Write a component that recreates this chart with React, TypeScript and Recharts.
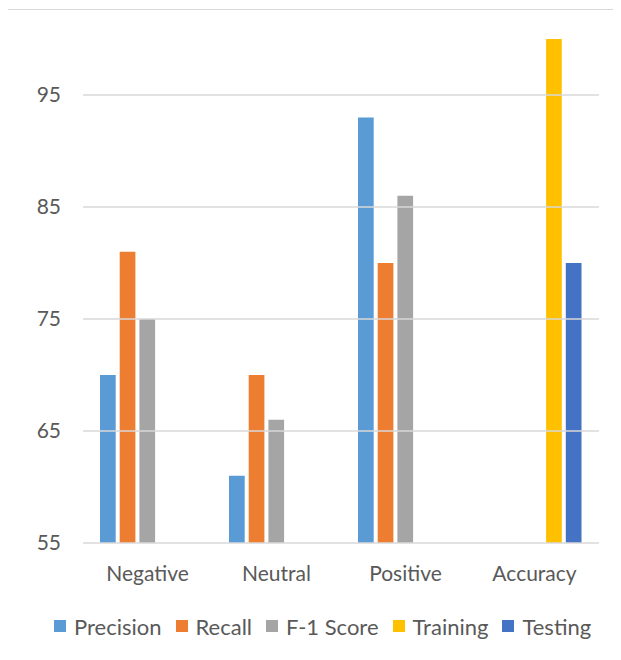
import { BarChart, Bar, XAxis, YAxis, ReferenceLine, Legend } from "recharts";

const categories = ["Negative", "Neutral", "Positive", "Accuracy"];
const precision = [70, 61, 93, null];
const recall = [81, 70, 80, null];
const f1Score = [75, 66, 86, null];
const training = [null, null, null, 100];
const testing = [null, null, null, 80];
const yTicks = [55, 65, 75, 85, 95];

const series = [
  { key: "precision", name: "Precision", color: "#5B9BD5" },
  { key: "recall", name: "Recall", color: "#ED7D31" },
  { key: "f1", name: "F-1 Score", color: "#A5A5A5" },
  { key: "training", name: "Training", color: "#FFC000" },
  { key: "testing", name: "Testing", color: "#4472C4" },
];

const data = categories.map((name, i) => ({
  name,
  precision: precision[i],
  recall: recall[i],
  f1: f1Score[i],
  training: training[i],
  testing: testing[i],
}));

const textColor = "#595959";
const fontFamily = "Lato, 'Liberation Sans', sans-serif";

function LegendContent() {
  return (
    <div
      style={{
        display: "flex",
        justifyContent: "flex-start",
        alignItems: "center",
        height: 40,
        paddingLeft: 46,
        whiteSpace: "nowrap",
        fontFamily,
        fontSize: 22,
        color: textColor,
      }}
    >
      {series.map((s) => (
        <div key={s.key} style={{ display: "flex", alignItems: "center", marginRight: 14, flexShrink: 0 }}>
          <span style={{ width: 12, height: 12, background: s.color, marginRight: 8, display: "inline-block" }} />
          <span>{s.name}</span>
        </div>
      ))}
    </div>
  );
}

export default function App() {
  return (
    <div style={{ position: "relative", width: 613, height: 652, fontFamily }}>
      <div
        style={{
          position: "absolute",
          left: -1,
          top: 1,
          right: 0,
          bottom: 0,
          borderLeft: "1.5px solid #d9d9d9",
          borderTop: "1.5px solid #d9d9d9",
          pointerEvents: "none",
        }}
      />
      <BarChart
        width={613}
        height={652}
        data={data}
        margin={{ top: 31, right: 22, left: 0, bottom: 14 }}
        barSize={15.7}
        barGap={4}
        barCategoryGap={17}
      >
        <XAxis
          dataKey="name"
          height={63}
          tickLine={false}
          axisLine={{ stroke: "#d9d9d9", strokeWidth: 1.5 }}
          tickSize={0}
          tickMargin={23}
          tick={{ fill: textColor, fontSize: 21, fontFamily }}
        />
        <YAxis
          width={75}
          domain={[55, 100]}
          ticks={yTicks}
          allowDataOverflow
          tickLine={false}
          axisLine={false}
          tickSize={0}
          tickMargin={22}
          tick={{ fill: textColor, fontSize: 21, fontFamily }}
        />
        {yTicks.slice(1).map((t) => (
          <ReferenceLine key={t} y={t} stroke="#d9d9d9" strokeWidth={1.5} />
        ))}
        <Legend verticalAlign="bottom" height={40} content={<LegendContent />} />
        {series.map((s) => (
          <Bar key={s.key} dataKey={s.key} name={s.name} fill={s.color} isAnimationActive={false} />
        ))}
      </BarChart>
    </div>
  );
}
